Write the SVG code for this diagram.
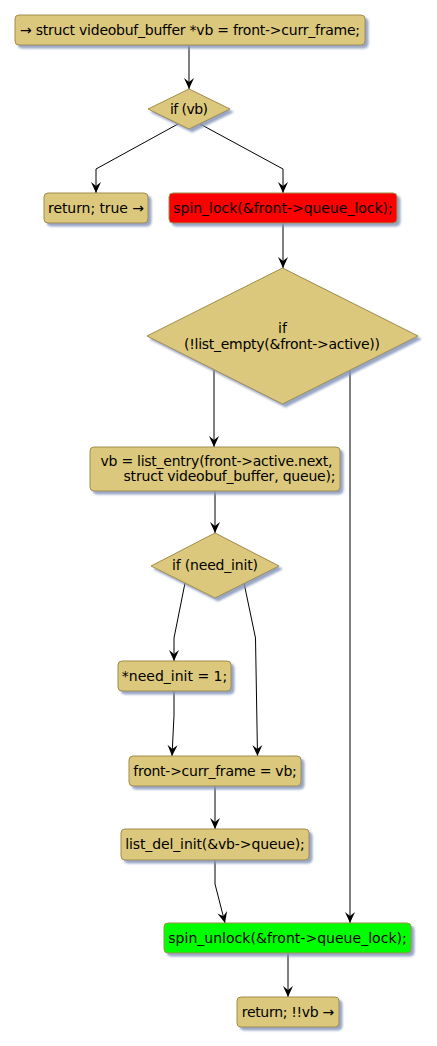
<svg xmlns="http://www.w3.org/2000/svg" width="437" height="1046" viewBox="0 0 437 1046">
<defs>
<filter id="sh" x="-10%" y="-20%" width="130%" height="160%">
<feGaussianBlur in="SourceAlpha" stdDeviation="1.2" result="b"/>
<feOffset in="b" dx="3" dy="3" result="o"/>
<feFlood flood-color="#8596bb" flood-opacity="0.85"/>
<feComposite in2="o" operator="in" result="s"/>
<feMerge><feMergeNode in="s"/><feMergeNode in="SourceGraphic"/></feMerge>
</filter>
<marker id="ah" viewBox="-12 -6 13 12" refX="0" refY="0" markerWidth="13" markerHeight="12" markerUnits="userSpaceOnUse" orient="auto">
<path d="M0,0 L-11,-5 L-7,0 L-11,5 Z" fill="#000"/>
</marker>
</defs>
<style>
.n{fill:#dbc87c;stroke:#a08d4c;stroke-width:1;filter:url(#sh)}
.red{fill:#ff0000}
.grn{fill:#00ff00}
text{font-family:"DejaVu Sans",sans-serif;font-size:14px;fill:#000}
.c{text-anchor:middle}
.e{fill:none;stroke:#000;stroke-width:1;marker-end:url(#ah)}
</style>
<g id="connectors">
<path class="e" d="M189,45 L189,89"/>
<path class="e" d="M178,124 L96,169 L96,193"/>
<path class="e" d="M200,124 L283,169 L283,193"/>
<path class="e" d="M283,223 L283,268"/>
<path class="e" d="M214,369 L214,447"/>
<path class="e" d="M350,369 L350,923"/>
<path class="e" d="M215,491 L215,533"/>
<path class="e" d="M185,583 L174,638 L174,661"/>
<path class="e" d="M244,583 L255.5,638 L257.5,756"/>
<path class="e" d="M174,691 L174,715 L172,756"/>
<path class="e" d="M215,786 L215,829"/>
<path class="e" d="M215,860 L215,884 L225,923"/>
<path class="e" d="M288,953 L288,997"/>
</g>
<g id="n1"><rect class="n" x="15" y="15" width="350" height="30" rx="4"/><text class="c" x="190" y="35" textLength="340" lengthAdjust="spacing">→ struct videobuf_buffer *vb = front-&gt;curr_frame;</text></g>
<g id="n2"><polygon class="n" points="148,109 189,89 230,109 189,129"/><text class="c" x="189" y="114" textLength="38" lengthAdjust="spacing">if (vb)</text></g>
<g id="n3"><rect class="n" x="44" y="193" width="104" height="30" rx="4"/><text class="c" x="96" y="213" textLength="96" lengthAdjust="spacing">return; true →</text></g>
<g id="n4"><rect class="n red" x="169" y="193" width="228" height="30" rx="4"/><text class="c" x="283" y="213" textLength="219.5" lengthAdjust="spacing">spin_lock(&amp;front-&gt;queue_lock);</text></g>
<g id="n5"><polygon class="n" points="147,336 282.5,268 418,336 282.5,404"/><text class="c" x="282.5" y="333">if</text><text class="c" x="282" y="349" textLength="196" lengthAdjust="spacing">(!list_empty(&amp;front-&gt;active))</text></g>
<g id="n6"><rect class="n" x="90" y="447" width="250" height="44" rx="4"/><text x="100.5" y="466" textLength="232" lengthAdjust="spacing">vb = list_entry(front-&gt;active.next,</text><text x="123.5" y="481" textLength="212" lengthAdjust="spacing">struct videobuf_buffer, queue);</text></g>
<g id="n7"><polygon class="n" points="151,566 215,533 279,566 215,598"/><text class="c" x="215" y="570" textLength="86" lengthAdjust="spacing">if (need_init)</text></g>
<g id="n8"><rect class="n" x="118" y="661" width="113" height="30" rx="4"/><text class="c" x="174.5" y="681" textLength="105.5" lengthAdjust="spacing">*need_init = 1;</text></g>
<g id="n9"><rect class="n" x="129" y="756" width="172" height="30" rx="4"/><text class="c" x="215" y="776" textLength="163.5" lengthAdjust="spacing">front-&gt;curr_frame = vb;</text></g>
<g id="n10"><rect class="n" x="121" y="829" width="188" height="31" rx="4"/><text class="c" x="215" y="849" textLength="179.5" lengthAdjust="spacing">list_del_init(&amp;vb-&gt;queue);</text></g>
<g id="n11"><rect class="n grn" x="164" y="923" width="247" height="30" rx="4"/><text class="c" x="287.5" y="943" textLength="238.5" lengthAdjust="spacing">spin_unlock(&amp;front-&gt;queue_lock);</text></g>
<g id="n12"><rect class="n" x="237" y="997" width="102" height="30" rx="4"/><text class="c" x="288" y="1017" textLength="92.5" lengthAdjust="spacing">return; !!vb →</text></g>
</svg>
